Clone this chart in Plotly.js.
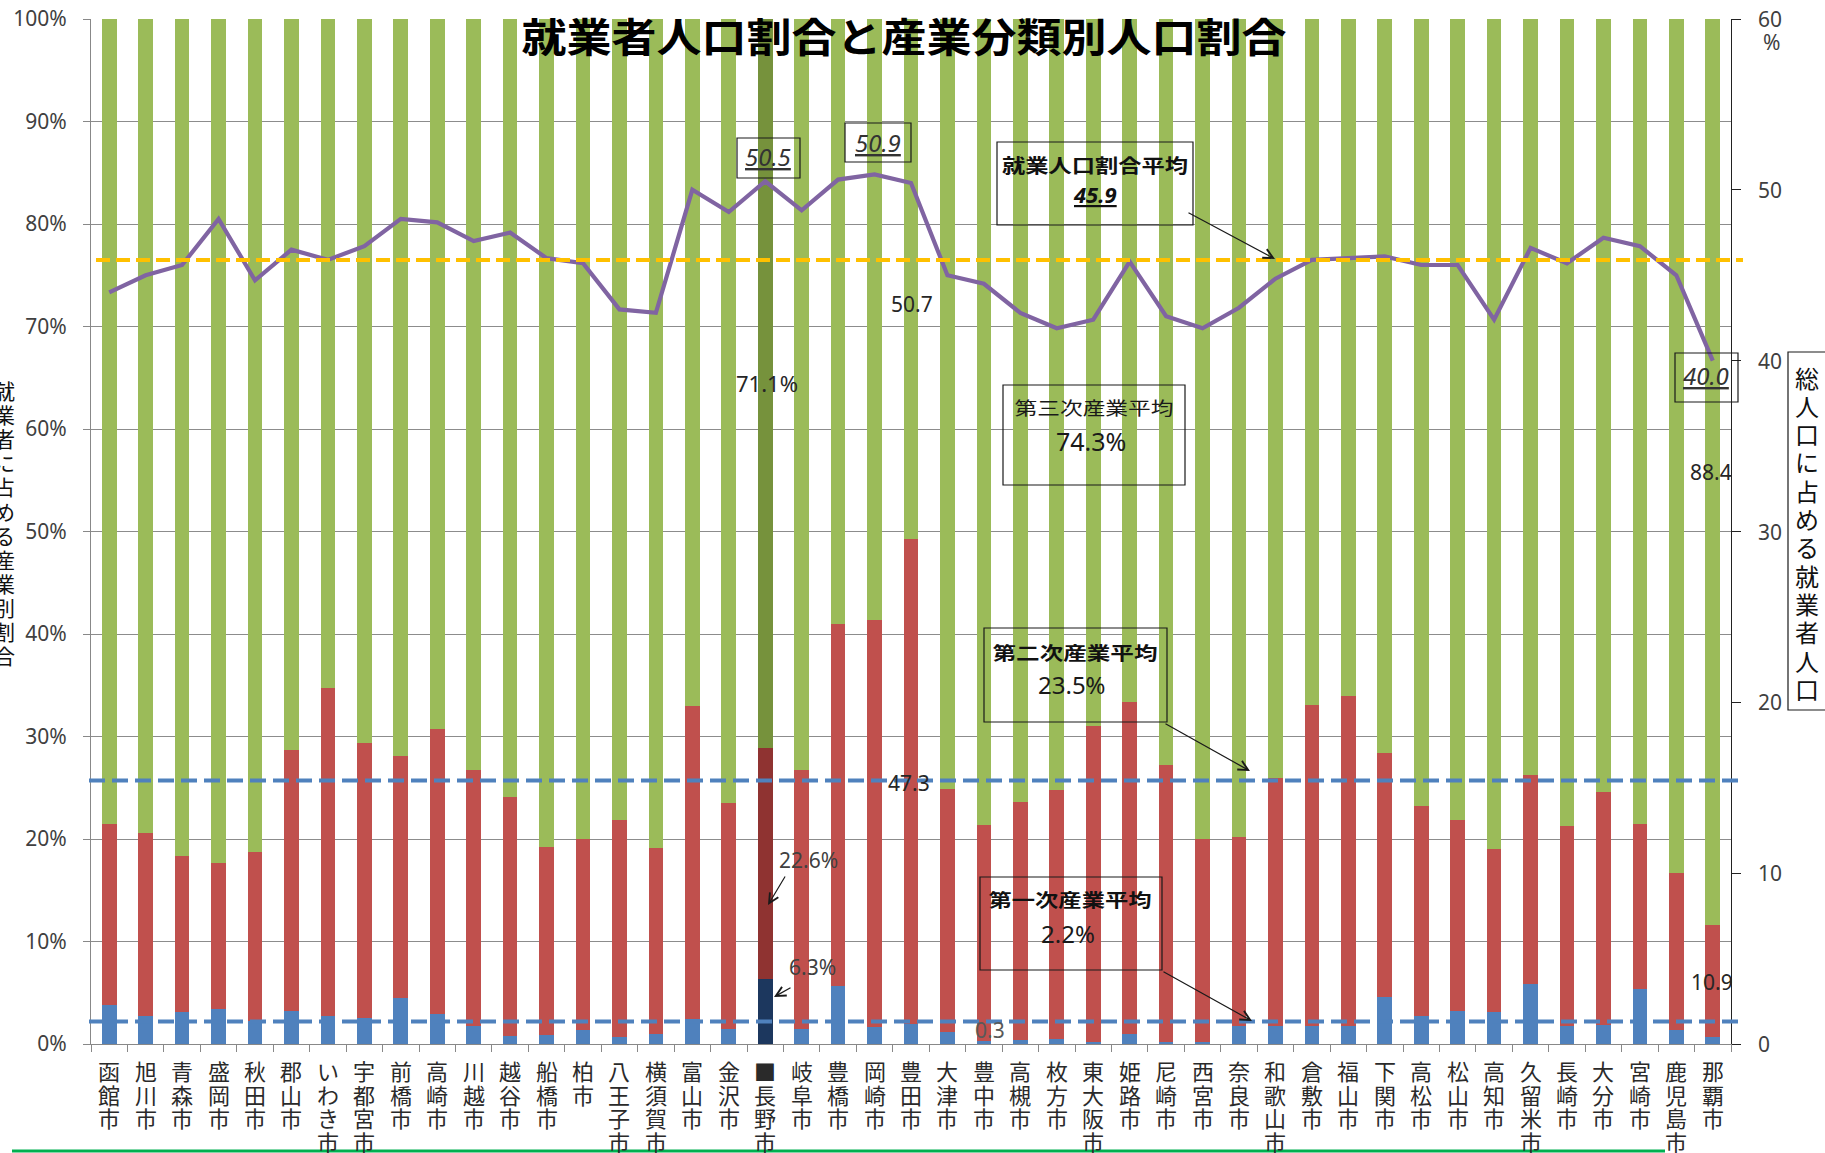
<!DOCTYPE html>
<html>
<head>
<meta charset="utf-8">
<script src="https://cdn.plot.ly/plotly-3.0.1.min.js"></script>
<style>
  html, body { margin: 0; padding: 0; background: #ffffff; }
  #chart { width: 1825px; height: 1153px; }
</style>
</head>
<body>
<div id="chart"></div>
<script>
// 都市別：就業者の産業分類別割合（％）と総人口に占める就業者人口割合（％）
const cities = ["函館市","旭川市","青森市","盛岡市","秋田市","郡山市","いわき市","宇都宮市","前橋市","高崎市",
  "川越市","越谷市","船橋市","柏市","八王子市","横須賀市","富山市","金沢市","■長野市","岐阜市",
  "豊橋市","岡崎市","豊田市","大津市","豊中市","高槻市","枚方市","東大阪市","姫路市","尼崎市",
  "西宮市","奈良市","和歌山市","倉敷市","福山市","下関市","高松市","松山市","高知市","久留米市",
  "長崎市","大分市","宮崎市","鹿児島市","那覇市"];

// 第一次産業
const primary = [3.8,2.7,3.1,3.4,2.2,3.2,2.7,2.5,4.5,2.9,
  1.8,0.8,0.9,1.4,0.7,1.0,2.4,1.5,6.3,1.5,
  5.7,1.7,2.0,1.2,0.3,0.4,0.5,0.2,1.0,0.2,
  0.2,1.8,1.8,1.8,1.8,4.6,2.7,3.2,3.1,5.9,
  1.8,1.9,5.4,1.4,0.7];
// 第二次産業
const secondary = [17.7,17.9,15.2,14.3,16.5,25.5,32.0,26.9,23.6,27.8,
  24.9,23.3,18.3,18.6,21.2,18.1,30.6,22.0,22.6,25.2,
  35.3,39.7,47.3,23.7,21.1,23.2,24.3,30.8,32.4,27.0,
  19.8,18.4,24.2,31.3,32.2,23.8,20.5,18.7,15.9,20.3,
  19.5,22.7,16.1,15.3,10.9];
// 第三次産業
const tertiary = [78.5,79.4,81.7,82.3,81.3,71.3,65.3,70.6,71.9,69.3,
  73.3,75.9,80.8,80.0,78.1,80.9,67.0,76.5,71.1,73.3,
  59.0,58.6,50.7,75.1,78.6,76.4,75.2,69.0,66.6,72.8,
  80.0,79.8,74.0,66.9,66.0,71.6,76.8,78.1,81.0,73.8,
  78.7,75.4,78.5,83.3,88.4];
// 総人口に占める就業者人口（右軸）
const workerRatio = [44.0,45.0,45.6,48.3,44.7,46.5,45.9,46.7,48.3,48.1,
  47.0,47.5,46.0,45.7,43.0,42.8,50.0,48.7,50.5,48.8,
  50.6,50.9,50.4,45.0,44.5,42.8,41.9,42.4,45.8,42.6,
  41.9,43.1,44.8,45.9,46.0,46.1,45.6,45.6,42.4,46.6,
  45.7,47.2,46.7,45.0,40.0];

// 平均値
const primaryAvg = 2.2;
const secondaryAvg = 23.5;
const tertiaryAvg = 74.3;
const workerAvg = 45.9;

const leftTicks = [0,10,20,30,40,50,60,70,80,90,100];
const rightTicks = [0,10,20,30,40,50,60];

const chartTitle = "就業者人口割合と産業分類別人口割合";
const leftTitle = "就業者に占める産業別割合";
const rightTitle = "総人口に占める就業者人口";

// ページ上のピクセル位置 → paper 座標
const L = 91, R = 1731, T = 19, B = 1044;
const xp = px => (px - L) / (R - L);
const yp = py => (B - py) / (B - T);

const JP = "Noto Sans CJK JP";
const NUM = "Noto Sans, Noto Sans CJK JP";

const hi = cities.indexOf("■長野市");
const colorFor = (base, dark) => cities.map((c, i) => i === hi ? dark : base);

const traces = [
  { type: "bar", name: "第一次産業", x: cities, y: primary,
    marker: { color: colorFor("#4f81bd", "#1c375e"), line: { width: 0 } }, yaxis: "y" },
  { type: "bar", name: "第二次産業", x: cities, y: secondary,
    marker: { color: colorFor("#c0504d", "#8f3331"), line: { width: 0 } }, yaxis: "y" },
  { type: "bar", name: "第三次産業", x: cities, y: tertiary,
    marker: { color: colorFor("#9bbb59", "#76923c"), line: { width: 0 } }, yaxis: "y" },
  { type: "scatter", mode: "lines", name: "就業者人口割合", x: cities, y: workerRatio,
    line: { color: "#8064a2", width: 4.2 }, yaxis: "y2" }
];

const annotations = [];
function label(text, x, y, size, extra) {
  const font = Object.assign({ family: NUM, size: size, color: "#262626" }, (extra && extra.font) || {});
  annotations.push(Object.assign({
    xref: "paper", yref: "paper", x: xp(x), y: yp(y),
    xanchor: "center", yanchor: "middle", showarrow: false, text: text
  }, extra || {}, { font: font }));
}
function arrow(x0, y0, x1, y1) {
  annotations.push({
    xref: "paper", yref: "paper", x: xp(x1), y: yp(y1),
    axref: "pixel", ayref: "pixel", ax: x0 - x1, ay: y0 - y1,
    text: "", showarrow: true, arrowhead: 5, arrowsize: 1.6, arrowwidth: 1.2,
    arrowcolor: "#1a1a1a", standoff: 0, startstandoff: 0
  });
}

// x 軸の都市名（縦書き）
cities.forEach(c => {
  Array.from(c).forEach((ch, j) => {
    annotations.push({
      xref: "x", yref: "paper", x: c, y: 0, xanchor: "center", yanchor: "middle",
      yshift: -(26 + 23.5 * j), text: ch, showarrow: false,
      font: { family: JP, size: 22, color: "#2a2a2a" }
    });
  });
});

// 右軸の目盛ラベル（軸の値の位置に配置）
rightTicks.forEach(v => {
  annotations.push({
    xref: "paper", yref: "y2", x: xp(1756), y: v, xanchor: "left", yanchor: "middle",
    text: String(v), showarrow: false,
    font: { family: NUM, size: 21, color: "#404040" }
  });
});
label("%", 1772, 42, 21, { font: { color: "#404040" } });

// 左軸タイトル（縦書き）
Array.from(leftTitle).forEach((ch, j) => {
  label(ch, 4, 390 + 24.1 * j, 21, { font: { family: JP, color: "#111111" } });
});
// 右軸タイトル（縦書き・枠付き）
Array.from(rightTitle).forEach((ch, j) => {
  label(ch, 1807, 377 + 28.3 * j, 24, { font: { family: JP, color: "#111111" } });
});

// 数値ラベル
const uItal = { style: "italic", lineposition: "under", color: "#333333" };
label(workerRatio[hi].toFixed(1), 768, 156, 24, { font: uItal });
label(workerRatio[cities.indexOf("岡崎市")].toFixed(1), 878, 142, 24, { font: uItal });
label(workerRatio[cities.length - 1].toFixed(1), 1706, 375, 24, { font: uItal });

label("就業人口割合平均", 1095, 164, 19, { font: { family: JP, weight: "bold", color: "#111111" } });
label(workerAvg.toFixed(1), 1095, 194, 22, { font: { weight: "bold", style: "italic", lineposition: "under", color: "#111111" } });

label(tertiary[cities.indexOf("豊田市")].toFixed(1), 912, 304, 21);
label(tertiary[hi].toFixed(1) + "%", 767, 383, 22);

label("第三次産業平均", 1094, 407, 18, { font: { family: JP, color: "#1a1a1a" } });
label(tertiaryAvg.toFixed(1) + "%", 1091, 441, 25, { font: { color: "#1a1a1a" } });

label(tertiary[cities.length - 1].toFixed(1), 1711, 472, 21);

label("第二次産業平均", 1075, 652, 18, { font: { family: JP, weight: "bold", color: "#111111" } });
label(secondaryAvg.toFixed(1) + "%", 1072, 684, 24, { font: { color: "#1a1a1a" } });

label(secondary[cities.indexOf("豊田市")].toFixed(1), 909, 783, 21);
label(secondary[hi].toFixed(1) + "%", 808, 860, 21, { font: { color: "#404040" } });

label("第一次産業平均", 1070, 899, 18, { font: { family: JP, weight: "bold", color: "#111111" } });
label(primaryAvg.toFixed(1) + "%", 1068, 933, 24, { font: { color: "#1a1a1a" } });

label(primary[hi].toFixed(1) + "%", 812, 967, 21, { font: { color: "#404040" } });
label(primary[cities.indexOf("豊中市")].toFixed(1), 990, 1030, 21, { font: { color: "#595959" } });
label(secondary[cities.length - 1].toFixed(1), 1712, 982, 21);

// 引き出し線
arrow(1187, 212, 1275, 259);
arrow(1164, 723, 1250, 771);
arrow(1162, 971, 1252, 1021);
arrow(786, 875, 768, 905);
arrow(792, 987, 774, 997);

// 枠と平均線
function box(x0, y0, x1, y1) {
  return { type: "rect", xref: "paper", yref: "paper",
    x0: xp(x0), x1: xp(x1), y0: yp(y1), y1: yp(y0),
    line: { color: "#1a1a1a", width: 1.2 }, fillcolor: "rgba(0,0,0,0)" };
}
const shapes = [
  { type: "line", xref: "paper", yref: "y2", x0: xp(96), x1: xp(1743), y0: workerAvg, y1: workerAvg,
    line: { color: "#ffc000", width: 4, dash: "14px,6px" } },
  { type: "line", xref: "paper", yref: "y", x0: xp(89), x1: xp(1740),
    y0: primaryAvg + secondaryAvg, y1: primaryAvg + secondaryAvg,
    line: { color: "#4f81bd", width: 4, dash: "16px,7px" } },
  { type: "line", xref: "paper", yref: "y", x0: xp(89), x1: xp(1740), y0: primaryAvg, y1: primaryAvg,
    line: { color: "#4f81bd", width: 4, dash: "16px,7px" } },
  box(737, 138, 800, 178),
  box(845, 123, 911, 162),
  box(997, 142, 1193, 225),
  box(1003, 385, 1185, 485),
  box(984, 628, 1167, 722),
  box(980, 877, 1162, 970),
  box(1675, 353, 1738, 402),
  box(1788, 352, 1830, 710),
  { type: "line", xref: "paper", yref: "paper", x0: xp(12), x1: xp(1665), y0: yp(1151), y1: yp(1151),
    line: { color: "#00b050", width: 3 } }
];

const layout = {
  width: 1825, height: 1153,
  margin: { l: L, r: 1825 - R, t: T, b: 1153 - B, pad: 0 },
  paper_bgcolor: "#ffffff", plot_bgcolor: "#ffffff",
  showlegend: false,
  barmode: "stack", bargap: 0.6,
  title: { text: chartTitle, x: 904 / 1825, y: 1 - 38 / 1153, xanchor: "center", yanchor: "middle",
    font: { family: JP, size: 40, weight: "bold", color: "#000000" } },
  xaxis: {
    type: "category", range: [-0.5, cities.length - 0.5],
    showticklabels: false, ticks: "outside", tickson: "boundaries", ticklen: 7, tickcolor: "#888888",
    showline: true, linecolor: "#888888", linewidth: 1, showgrid: false, zeroline: false
  },
  yaxis: {
    range: [0, 100], tickvals: leftTicks, ticktext: leftTicks.map(v => v + "%"),
    ticks: "outside", ticklen: 7, tickcolor: "#888888", ticklabelstandoff: 12,
    showline: true, linecolor: "#888888", linewidth: 1,
    showgrid: true, gridcolor: "#8c8c8c", gridwidth: 1, zeroline: false,
    tickfont: { family: NUM, size: 21, color: "#404040" }
  },
  yaxis2: {
    overlaying: "y", side: "right", range: [0, 60],
    tickvals: rightTicks, showticklabels: false,
    ticks: "outside", ticklen: 9, tickcolor: "#222222",
    showline: true, linecolor: "#222222", linewidth: 1.2,
    showgrid: false, zeroline: false
  },
  annotations: annotations,
  shapes: shapes
};

// 横長に引き伸ばされた文字列の幅
const stretchWidths = {};
stretchWidths[chartTitle] = 765;
stretchWidths["就業人口割合平均"] = 186;
stretchWidths["第三次産業平均"] = 159;
stretchWidths["第二次産業平均"] = 165;
stretchWidths["第一次産業平均"] = 163;

Plotly.newPlot("chart", traces, layout, { staticPlot: true, displayModeBar: false }).then(gd => {
  gd.querySelectorAll("text").forEach(t => {
    const key = t.getAttribute("data-unformatted");
    if (key && stretchWidths[key]) {
      t.setAttribute("textLength", stretchWidths[key]);
      t.setAttribute("lengthAdjust", "spacingAndGlyphs");
    }
  });
});
</script>
</body>
</html>
